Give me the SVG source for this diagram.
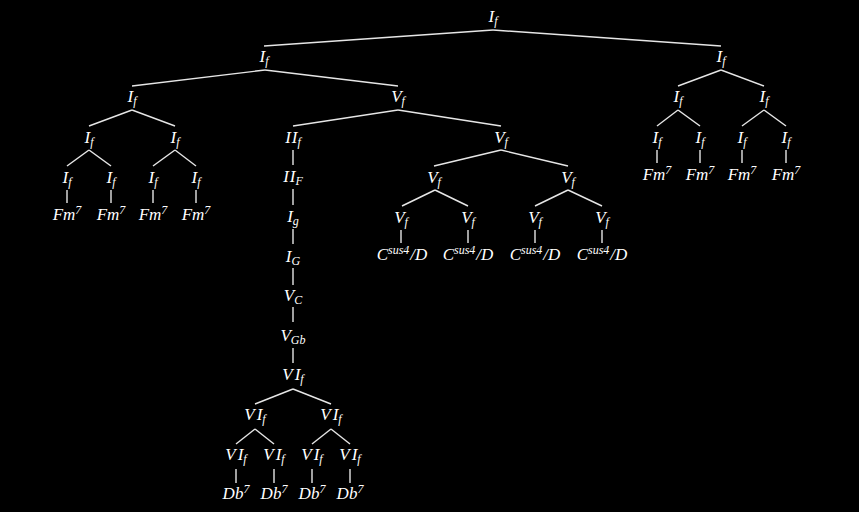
<svg xmlns="http://www.w3.org/2000/svg" width="859" height="512" viewBox="0 0 859 512">
<style>
text{font-family:"Liberation Serif","DejaVu Serif",serif;font-style:italic;font-size:17px;fill:#ffffff;text-anchor:middle}
.s{font-size:12px}
#edges line{stroke:#e6e6e6;stroke-width:1.4}
</style>
<rect width="859" height="512" fill="#000000"/>
<g id="edges">
<line x1="493" y1="30" x2="264" y2="46"/><line x1="493" y1="30" x2="721" y2="46"/>
<line x1="265" y1="70" x2="132" y2="86"/><line x1="265" y1="70" x2="398" y2="86"/>
<line x1="721" y1="70" x2="678" y2="86"/><line x1="721" y1="70" x2="764" y2="86"/>
<line x1="132" y1="110" x2="89" y2="126"/><line x1="132" y1="110" x2="175" y2="126"/>
<line x1="398" y1="110" x2="293" y2="126"/><line x1="398" y1="110" x2="501" y2="126"/>
<line x1="89" y1="150" x2="67" y2="166"/><line x1="89" y1="150" x2="111" y2="166"/>
<line x1="175" y1="150" x2="153" y2="166"/><line x1="175" y1="150" x2="196" y2="166"/>
<line x1="293" y1="150" x2="293" y2="165"/>
<line x1="501" y1="150" x2="434" y2="166"/><line x1="501" y1="150" x2="568" y2="166"/>
<line x1="67" y1="190" x2="67" y2="203"/><line x1="111" y1="190" x2="111" y2="203"/>
<line x1="153" y1="190" x2="153" y2="203"/><line x1="196" y1="190" x2="196" y2="203"/>
<line x1="293" y1="189" x2="293" y2="205"/>
<line x1="293" y1="229" x2="293" y2="244"/>
<line x1="293" y1="268" x2="293" y2="285"/>
<line x1="293" y1="307" x2="293" y2="322"/>
<line x1="293" y1="348" x2="293" y2="363"/>
<line x1="293" y1="389" x2="255" y2="404"/><line x1="293" y1="389" x2="331" y2="404"/>
<line x1="255" y1="429" x2="236" y2="444"/><line x1="255" y1="429" x2="274" y2="444"/>
<line x1="331" y1="429" x2="312" y2="444"/><line x1="331" y1="429" x2="350" y2="444"/>
<line x1="236" y1="469" x2="236" y2="483"/><line x1="274" y1="469" x2="274" y2="483"/>
<line x1="312" y1="469" x2="312" y2="483"/><line x1="350" y1="469" x2="350" y2="483"/>
<line x1="435" y1="190" x2="402" y2="206"/><line x1="435" y1="190" x2="468" y2="206"/>
<line x1="568" y1="190" x2="535" y2="206"/><line x1="568" y1="190" x2="602" y2="206"/>
<line x1="401" y1="230" x2="401" y2="243"/><line x1="468" y1="230" x2="468" y2="243"/>
<line x1="535" y1="230" x2="535" y2="243"/><line x1="602" y1="230" x2="602" y2="243"/>
<line x1="678" y1="110" x2="657" y2="126"/><line x1="678" y1="110" x2="700" y2="126"/>
<line x1="764" y1="110" x2="742" y2="126"/><line x1="764" y1="110" x2="786" y2="126"/>
<line x1="657" y1="150" x2="657" y2="163"/><line x1="700" y1="150" x2="700" y2="163"/>
<line x1="742" y1="150" x2="742" y2="163"/><line x1="786" y1="150" x2="786" y2="163"/>
</g>
<g id="n0"><text x="493" y="22">I<tspan class="s" dy="3">f</tspan></text></g>
<g id="n1"><text x="264" y="62">I<tspan class="s" dy="3">f</tspan></text></g>
<g id="n2"><text x="721" y="62">I<tspan class="s" dy="3">f</tspan></text></g>
<g id="n3"><text x="132" y="102">I<tspan class="s" dy="3">f</tspan></text></g>
<g id="n4"><text x="398" y="102">V<tspan class="s" dy="3">f</tspan></text></g>
<g id="n5"><text x="89" y="143">I<tspan class="s" dy="3">f</tspan></text></g>
<g id="n6"><text x="175" y="143">I<tspan class="s" dy="3">f</tspan></text></g>
<g id="n7"><text x="293" y="143">I<tspan dx="1">I</tspan><tspan class="s" dy="3">f</tspan></text></g>
<g id="n8"><text x="501" y="143">V<tspan class="s" dy="3">f</tspan></text></g>
<g id="n9"><text x="67" y="183">I<tspan class="s" dy="3">f</tspan></text></g>
<g id="n10"><text x="111" y="183">I<tspan class="s" dy="3">f</tspan></text></g>
<g id="n11"><text x="153" y="183">I<tspan class="s" dy="3">f</tspan></text></g>
<g id="n12"><text x="196" y="183">I<tspan class="s" dy="3">f</tspan></text></g>
<g id="n13"><text x="67" y="220">Fm<tspan class="s" dy="-6">7</tspan></text></g>
<g id="n14"><text x="111" y="220">Fm<tspan class="s" dy="-6">7</tspan></text></g>
<g id="n15"><text x="153" y="220">Fm<tspan class="s" dy="-6">7</tspan></text></g>
<g id="n16"><text x="196" y="220">Fm<tspan class="s" dy="-6">7</tspan></text></g>
<g id="n17"><text x="293" y="182">I<tspan dx="1">I</tspan><tspan class="s" dy="3">F</tspan></text></g>
<g id="n18"><text x="293" y="222">I<tspan class="s" dy="3">g</tspan></text></g>
<g id="n19"><text x="293" y="262">I<tspan class="s" dy="3">G</tspan></text></g>
<g id="n20"><text x="293" y="301">V<tspan class="s" dy="3">C</tspan></text></g>
<g id="n21"><text x="293" y="341">V<tspan class="s" dy="3">Gb</tspan></text></g>
<g id="n22"><text x="293" y="380">V<tspan dx="2">I</tspan><tspan class="s" dy="3">f</tspan></text></g>
<g id="n23"><text x="255" y="420">V<tspan dx="2">I</tspan><tspan class="s" dy="3">f</tspan></text></g>
<g id="n24"><text x="331" y="420">V<tspan dx="2">I</tspan><tspan class="s" dy="3">f</tspan></text></g>
<g id="n25"><text x="236" y="460">V<tspan dx="2">I</tspan><tspan class="s" dy="3">f</tspan></text></g>
<g id="n26"><text x="274" y="460">V<tspan dx="2">I</tspan><tspan class="s" dy="3">f</tspan></text></g>
<g id="n27"><text x="312" y="460">V<tspan dx="2">I</tspan><tspan class="s" dy="3">f</tspan></text></g>
<g id="n28"><text x="350" y="460">V<tspan dx="2">I</tspan><tspan class="s" dy="3">f</tspan></text></g>
<g id="n29"><text x="236" y="499">Db<tspan class="s" dy="-6">7</tspan></text></g>
<g id="n30"><text x="274" y="499">Db<tspan class="s" dy="-6">7</tspan></text></g>
<g id="n31"><text x="312" y="499">Db<tspan class="s" dy="-6">7</tspan></text></g>
<g id="n32"><text x="350" y="499">Db<tspan class="s" dy="-6">7</tspan></text></g>
<g id="n33"><text x="434" y="183">V<tspan class="s" dy="3">f</tspan></text></g>
<g id="n34"><text x="568" y="183">V<tspan class="s" dy="3">f</tspan></text></g>
<g id="n35"><text x="401" y="223">V<tspan class="s" dy="3">f</tspan></text></g>
<g id="n36"><text x="468" y="223">V<tspan class="s" dy="3">f</tspan></text></g>
<g id="n37"><text x="535" y="223">V<tspan class="s" dy="3">f</tspan></text></g>
<g id="n38"><text x="602" y="223">V<tspan class="s" dy="3">f</tspan></text></g>
<g id="n39"><text x="402" y="260">C<tspan class="s" dy="-6">sus4</tspan><tspan dx="1" dy="6">/D</tspan></text></g>
<g id="n40"><text x="468" y="260">C<tspan class="s" dy="-6">sus4</tspan><tspan dx="1" dy="6">/D</tspan></text></g>
<g id="n41"><text x="535" y="260">C<tspan class="s" dy="-6">sus4</tspan><tspan dx="1" dy="6">/D</tspan></text></g>
<g id="n42"><text x="602" y="260">C<tspan class="s" dy="-6">sus4</tspan><tspan dx="1" dy="6">/D</tspan></text></g>
<g id="n43"><text x="678" y="102">I<tspan class="s" dy="3">f</tspan></text></g>
<g id="n44"><text x="764" y="102">I<tspan class="s" dy="3">f</tspan></text></g>
<g id="n45"><text x="657" y="143">I<tspan class="s" dy="3">f</tspan></text></g>
<g id="n46"><text x="700" y="143">I<tspan class="s" dy="3">f</tspan></text></g>
<g id="n47"><text x="742" y="143">I<tspan class="s" dy="3">f</tspan></text></g>
<g id="n48"><text x="786" y="143">I<tspan class="s" dy="3">f</tspan></text></g>
<g id="n49"><text x="657" y="180">Fm<tspan class="s" dy="-6">7</tspan></text></g>
<g id="n50"><text x="700" y="180">Fm<tspan class="s" dy="-6">7</tspan></text></g>
<g id="n51"><text x="742" y="180">Fm<tspan class="s" dy="-6">7</tspan></text></g>
<g id="n52"><text x="786" y="180">Fm<tspan class="s" dy="-6">7</tspan></text></g>
</svg>
